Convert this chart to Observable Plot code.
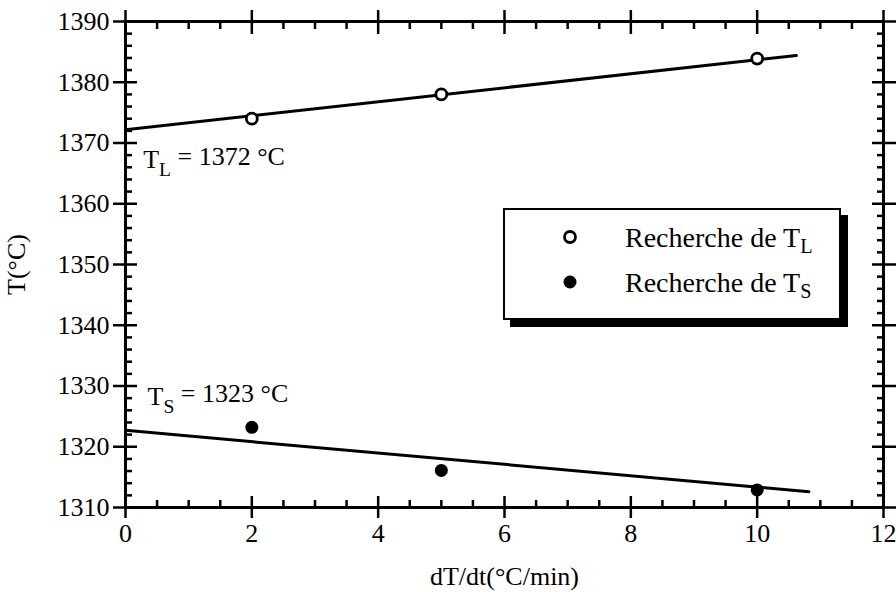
<!DOCTYPE html>
<html><head><meta charset="utf-8">
<script src="https://cdn.jsdelivr.net/npm/d3@7"></script>
<script src="https://cdn.jsdelivr.net/npm/@observablehq/plot@0.6"></script>
<style>
body{margin:0;background:#fff;}
#wrap{position:relative;width:896px;height:592px;font-family:"Liberation Serif",serif;}
#wrap svg{font-family:"Liberation Serif",serif;}
.legend{position:absolute;left:503px;top:208px;width:334px;height:108px;border:2.5px solid #000;box-shadow:7px 7px 0 #000;background:#fff;}
.legend .row{position:absolute;left:0;height:32px;font-size:28px;line-height:32px;white-space:nowrap;}
.legend .row svg{position:absolute;left:56px;top:6px;}
.legend .row span{position:absolute;left:120px;top:0;}
.legend sub{font-size:0.72em;vertical-align:-0.3em;line-height:0;}
</style></head><body><div id="wrap"></div>
<script>
// ---- data ----
const rateTL = [2, 5, 10];
const tempTL = [1374, 1378, 1383.9];
const rateTS = [2, 5, 10];
const tempTS = [1323.2, 1316.1, 1312.9];
// fitted lines (end points)
const fitTLx = [0, 10.62];
const fitTLy = [1372.2, 1384.4];
const fitTSx = [0, 10.82];
const fitTSy = [1322.7, 1312.6];
// tick values
const xTicks = [0, 2, 4, 6, 8, 10, 12];
const xMinorTicks = [0.5, 1, 1.5, 2.5, 3, 3.5, 4.5, 5, 5.5, 6.5, 7, 7.5, 8.5, 9, 9.5, 10.5, 11, 11.5];
const yTicks = [1310, 1320, 1330, 1340, 1350, 1360, 1370, 1380, 1390];
const yMinorTicks = [1312,1314,1316,1318,1322,1324,1326,1328,1332,1334,1336,1338,1342,1344,1346,1348,1352,1354,1356,1358,1362,1364,1366,1368,1372,1374,1376,1378,1382,1384,1386,1388];
// annotations
const annLabels = ["T_L = 1372 °C", "T_S = 1323 °C"];
const annX = [0.28, 0.35];
const annY = [1367.3, 1328.3];
// legend
const legendLabels = [["Recherche de T", "L"], ["Recherche de T", "S"]];
const legendFilled = [false, true];

const TL = rateTL.map((x, i) => ({x, y: tempTL[i]}));
const TS = rateTS.map((x, i) => ({x, y: tempTS[i]}));
const lineTL = fitTLx.map((x, i) => ({x, y: fitTLy[i]}));
const lineTS = fitTSx.map((x, i) => ({x, y: fitTSy[i]}));
const ann = annLabels.map((t, i) => ({t, x: annX[i], y: annY[i]}));

const blank = () => "";
const plain = d => String(d);
const sw = 2.5;
const fs = 26;

const chart = Plot.plot({
  width: 896,
  height: 592,
  marginLeft: 125,
  marginRight: 13,
  marginTop: 21,
  marginBottom: 85,
  style: {fontFamily: "Liberation Serif, serif", fontSize: fs + "px", color: "#000", background: "#fff"},
  x: {domain: [0, 12]},
  y: {domain: [1310, 1390]},
  marks: [
    // bottom axis
    Plot.axisX({anchor: "bottom", ticks: xTicks, tickFormat: plain, tickSize: 11, tickPadding: 5, strokeWidth: sw, fontSize: fs,
      label: "dT/dt(°C/min)", labelAnchor: "center", labelArrow: "none", labelOffset: 77}),
    Plot.axisX({anchor: "bottom", ticks: xTicks, tickSize: -11, tickFormat: blank, label: null, strokeWidth: sw}),
    Plot.axisX({anchor: "bottom", ticks: xMinorTicks, tickSize: -7, tickFormat: blank, label: null, strokeWidth: sw}),
    // top axis
    Plot.axisX({anchor: "top", ticks: xTicks, tickSize: 12, tickFormat: blank, label: null, strokeWidth: sw}),
    Plot.axisX({anchor: "top", ticks: xTicks, tickSize: -12, tickFormat: blank, label: null, strokeWidth: sw}),
    Plot.axisX({anchor: "top", ticks: xMinorTicks, tickSize: -7, tickFormat: blank, label: null, strokeWidth: sw}),
    // left axis
    Plot.axisY({anchor: "left", ticks: yTicks, tickFormat: plain, tickSize: 12, tickPadding: 4, strokeWidth: sw, fontSize: fs,
      label: "T(°C)", labelAnchor: "center", labelArrow: "none", labelOffset: 119}),
    Plot.axisY({anchor: "left", ticks: yTicks, tickSize: -12, tickFormat: blank, label: null, strokeWidth: sw}),
    Plot.axisY({anchor: "left", ticks: yMinorTicks, tickSize: -7, tickFormat: blank, label: null, strokeWidth: sw}),
    // right axis
    Plot.axisY({anchor: "right", ticks: yTicks, tickSize: 12, tickFormat: blank, label: null, strokeWidth: sw}),
    Plot.axisY({anchor: "right", ticks: yTicks, tickSize: -12, tickFormat: blank, label: null, strokeWidth: sw}),
    Plot.axisY({anchor: "right", ticks: yMinorTicks, tickSize: -7, tickFormat: blank, label: null, strokeWidth: sw}),
    Plot.frame({stroke: "#000", strokeWidth: 3}),
    // fitted lines
    Plot.line(lineTL, {x: "x", y: "y", stroke: "#000", strokeWidth: 3}),
    Plot.line(lineTS, {x: "x", y: "y", stroke: "#000", strokeWidth: 3}),
    // points
    Plot.dot(TL, {x: "x", y: "y", r: 5.5, fill: "#fff", stroke: "#000", strokeWidth: 2.8}),
    Plot.dot(TS, {x: "x", y: "y", r: 6.5, fill: "#000", stroke: "none"}),
    // annotations
    Plot.text(ann, {x: "x", y: "y", text: "t", textAnchor: "start", fontSize: 26, fill: "#000"})
  ]
});

// subscripts in annotation texts
d3.select(chart).selectAll("text").each(function () {
  const t = this.textContent;
  if (this.childElementCount === 0 && t.includes("_")) {
    const i = t.indexOf("_");
    const head = t.slice(0, i), sub = t.slice(i + 1, i + 2), rest = t.slice(i + 2);
    const el = d3.select(this);
    el.text(head);
    el.append("tspan").attr("dy", "0.45em").attr("font-size", "0.75em").text(sub);
    el.append("tspan").attr("dy", "-0.45em").text(rest);
  }
});

const wrap = document.getElementById("wrap");
wrap.appendChild(chart);

// legend box
const lg = d3.select(wrap).append("div").attr("class", "legend");
legendLabels.forEach((lab, i) => {
  const row = lg.append("div").attr("class", "row").style("top", (12 + i * 45) + "px");
  const s = row.append("svg").attr("width", 18).attr("height", 18);
  if (legendFilled[i]) s.append("circle").attr("cx", 9).attr("cy", 9).attr("r", 6.5).attr("fill", "#000");
  else s.append("circle").attr("cx", 9).attr("cy", 9).attr("r", 5.5).attr("fill", "#fff").attr("stroke", "#000").attr("stroke-width", 2.8);
  const sp = row.append("span");
  sp.append("tspan").text(lab[0]);
  sp.append("sub").text(lab[1]);
});
</script>
</body></html>
